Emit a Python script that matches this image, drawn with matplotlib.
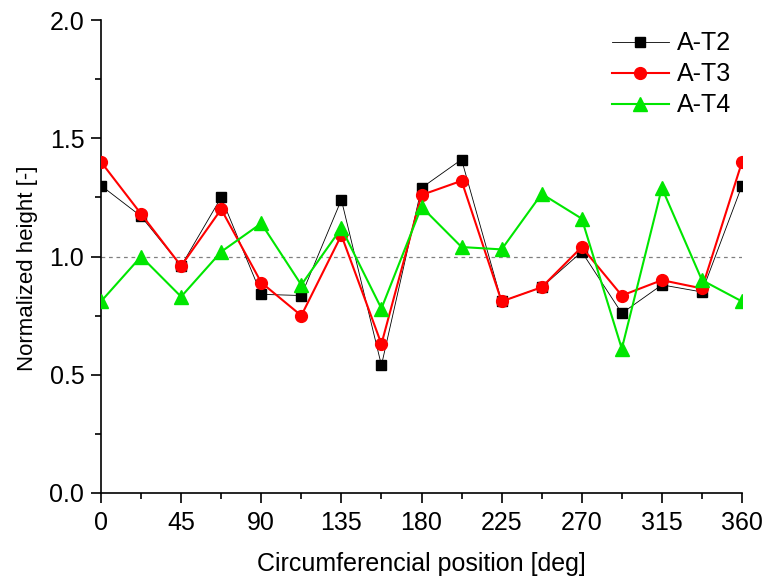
import numpy as np
import matplotlib
matplotlib.use('Agg')
from matplotlib import pyplot as plt
from matplotlib.ticker import MultipleLocator, FormatStrFormatter

plt.rcParams['font.family'] = ['Liberation Sans', 'DejaVu Sans']

angle = [0, 22.5, 45, 67.5, 90, 112.5, 135, 157.5, 180, 202.5, 225, 247.5, 270, 292.5, 315, 337.5, 360]
t2 = [1.30, 1.17, 0.96, 1.25, 0.84, 0.835, 1.24, 0.54, 1.29, 1.41, 0.81, 0.87, 1.02, 0.76, 0.88, 0.85, 1.30]
t3 = [1.40, 1.18, 0.96, 1.20, 0.89, 0.75, 1.09, 0.63, 1.26, 1.32, 0.81, 0.87, 1.04, 0.835, 0.90, 0.865, 1.40]
t4 = [0.81, 1.00, 0.83, 1.02, 1.14, 0.88, 1.12, 0.78, 1.21, 1.04, 1.03, 1.265, 1.16, 0.61, 1.29, 0.90, 0.81]

fig = plt.figure(figsize=(7.63, 5.81), dpi=100)
ax = fig.add_axes([101/763, 1-493/581, 641/763, 473/581])

ax.axhline(1.0, color='#808080', ls=(0, (3, 3)), lw=0.9, zorder=1)
ax.plot(angle, t2, color='black', lw=0.6, marker='s', ms=7.5, label='A-T2', zorder=3)
ax.plot(angle, t3, color='#ff0000', lw=1.5, marker='o', ms=8.5, label='A-T3', zorder=4)
ax.plot(angle, t4, color='#00e600', lw=1.5, marker='^', ms=9.5, label='A-T4', zorder=5)

ax.set_xlim(0, 360)
ax.set_ylim(0, 2.0)
ax.xaxis.set_major_locator(MultipleLocator(45))
ax.xaxis.set_minor_locator(MultipleLocator(22.5))
ax.yaxis.set_major_locator(MultipleLocator(0.5))
ax.yaxis.set_minor_locator(MultipleLocator(0.25))
ax.yaxis.set_major_formatter(FormatStrFormatter('%.1f'))
ax.spines['top'].set_visible(False)
ax.spines['right'].set_visible(False)
for s in ['left', 'bottom']:
    ax.spines[s].set_linewidth(1.2)
ax.tick_params(which='major', direction='out', length=7, width=1.2, labelsize=18)
ax.tick_params(which='minor', direction='out', length=4, width=1.2)
ax.tick_params(axis='x', pad=6)
ax.tick_params(axis='y', pad=5)

ax.set_xlabel('Circumferencial position [deg]', fontsize=18, labelpad=12)
ax.set_ylabel('Normalized height [-]', fontsize=16)
ax.yaxis.set_label_coords((38 - 101) / 641, (493 - 268) / 473)

ax.legend(loc='upper right', bbox_to_anchor=(1.0, 1.0), frameon=False, fontsize=18,
          handlelength=2.3, labelspacing=0.28, handletextpad=0.3,
          borderaxespad=0, borderpad=0.45)

fig.savefig('out.png', dpi=100)
